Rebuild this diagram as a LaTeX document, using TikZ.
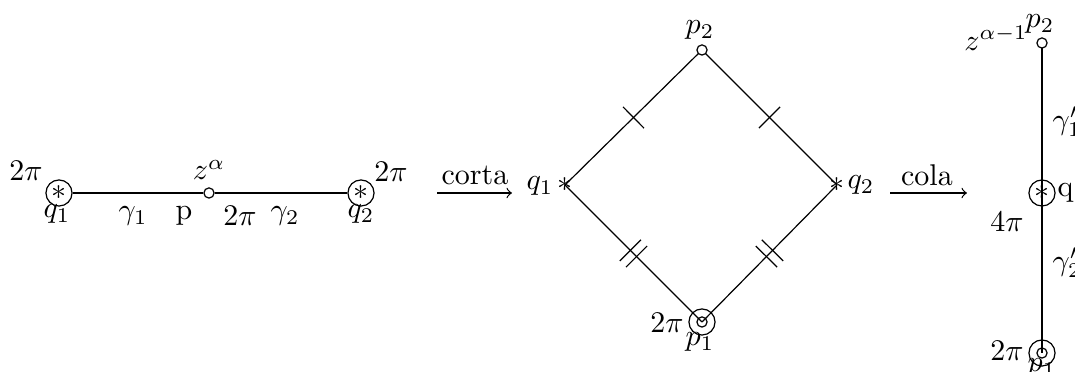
\documentclass[tikz,border=0pt]{standalone}
\usetikzlibrary{decorations.markings}
\begin{document}
\begin{tikzpicture}[x=0.3333pt,y=-0.3333pt,
  big/.style={circle,draw,minimum size=8.7pt,inner sep=0pt},
  small/.style={circle,draw,fill=white,minimum size=3.4pt,inner sep=0pt},
  star/.style={inner sep=0pt},
  lab/.style={inner sep=0pt},
  tk/.style={postaction={decorate},decoration={markings,mark=at position 0.5 with {\draw (0pt,-5pt)--(0pt,5pt);}}},
  tkk/.style={postaction={decorate},decoration={markings,mark=at position 0.5 with {\draw (-1.45pt,-5pt)--(-1.45pt,5pt) (1.45pt,-5pt)--(1.45pt,5pt);}}},
  arr/.style={->}]
\useasboundingbox (0,0) rectangle (1075,372);
% ---------- left panel ----------
\node[big] (q1) at (59,193) {};
\node[star] (s1) at (59,193) {$\ast$};
\node[big] (q2) at (361,193) {};
\node[star] (s2) at (361,193) {$\ast$};
\node[small] (z) at (209,193) {};
\draw (q1) -- (z) -- (q2);
\node[lab] (l2pa) at (26,171) {$2\pi$};
\node[lab] (lq1) at (57,214) {$q_1$};
\node[lab] (lza) at (209,170) {$z^{\alpha}$};
\node[lab] (l2pb) at (391,172) {$2\pi$};
\node[lab] (lq2) at (361,214) {$q_2$};
\node[lab] (lg1) at (133,216) {$\gamma_1$};
\node[lab] (lp) at (184,216) {p};
\node[lab] (l2pc) at (240,216) {$2\pi$};
\node[lab] (lg2) at (285,216) {$\gamma_2$};
% ---------- arrow corta ----------
\coordinate (ca) at (437,193);
\coordinate (cb) at (512,193);
\draw[arr] (ca) -- (cb);
\node[lab] (lcorta) at (475,175) {corta};
% ---------- diamond ----------
\coordinate (P2) at (702,50);
\coordinate (Q1) at (565,185);
\coordinate (Q2) at (837,185);
\coordinate (P1) at (702,322);
\draw[tk] (Q1) -- (P2);
\draw[tk] (Q2) -- (P2);
\draw[tkk] (Q1) -- (P1);
\draw[tkk] (Q2) -- (P1);
\node[small] (p2d) at (P2) {};
\node[star] (q1d) at (Q1) {$\ast$};
\node[star] (q2d) at (Q2) {$\ast$};
\node[big] (p1d) at (P1) {};
\node[circle,draw,minimum size=3.4pt,inner sep=0pt] (p1di) at (P1) {};
\node[lab] (lp2d) at (700,30) {$p_2$};
\node[lab] (lq1d) at (540,186) {$q_1$};
\node[lab] (lq2d) at (861,185) {$q_2$};
\node[lab] (l2pd) at (667,323) {$2\pi$};
\node[lab] (lp1d) at (700,342) {$p_1$};
% ---------- arrow cola ----------
\coordinate (ka) at (890,193);
\coordinate (kb) at (967,193);
\draw[arr] (ka) -- (kb);
\node[lab] (lcola) at (927,175) {cola};
% ---------- right panel ----------
\coordinate (P2r) at (1042,43);
\coordinate (Qr) at (1042,193);
\coordinate (P1r) at (1042,353);
\draw (P2r) -- (Qr) -- (P1r);
\node[small] (p2r) at (P2r) {};
\node[big] (qr) at (Qr) {};
\node[star] (sr) at (Qr) {$\ast$};
\node[big] (p1r) at (P1r) {};
\node[circle,draw,minimum size=3.4pt,inner sep=0pt] (p1ri) at (P1r) {};
\node[lab] (lza1) at (996,38) {$z^{\alpha-1}$};
\node[lab] (lp2r) at (1040,24) {$p_2$};
\node[lab,anchor=west] (lg1r) at (1052,122) {$\gamma_1'$};
\node[lab,anchor=west] (lqr) at (1057,193) {q};
\node[lab] (l4p) at (1007,222) {$4\pi$};
\node[lab,anchor=west] (lg2r) at (1052,263) {$\gamma_2'$};
\node[lab] (l2pr) at (1007,351) {$2\pi$};
\node[lab] (lp1r) at (1042,368) {$p_1$};
\end{tikzpicture}
\end{document}
